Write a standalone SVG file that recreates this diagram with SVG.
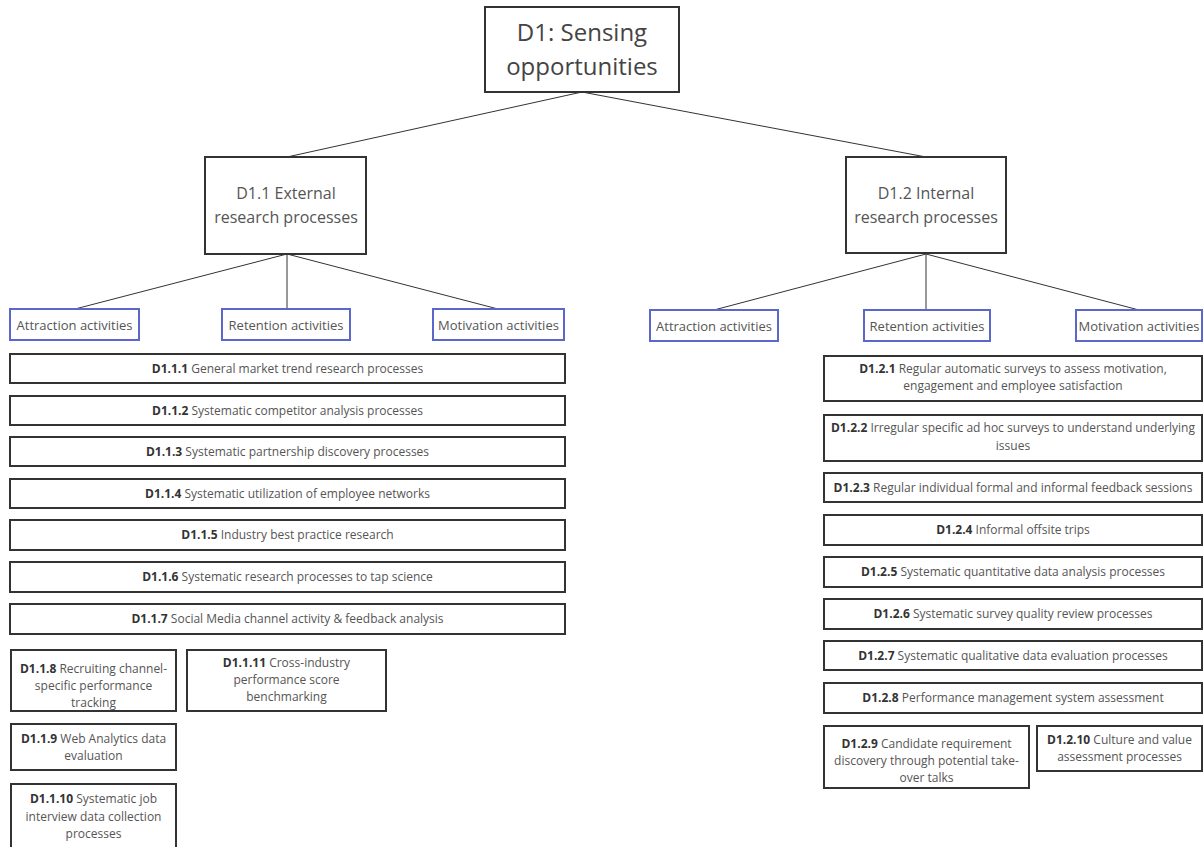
<svg xmlns="http://www.w3.org/2000/svg" width="1203" height="847" viewBox="0 0 1203 847">
<style>
text{font-family:"Open Sans","Noto Sans","Liberation Sans",sans-serif;fill:#555;text-anchor:middle}
.b{font-weight:bold;fill:#333}
.box{fill:#fff;stroke:#333;stroke-width:2}
.act{fill:#fff;stroke:#5c67cc;stroke-width:2}
.s{font-size:12px}
.a{font-size:13px}
.conn line{stroke:#333;stroke-width:1}
</style>
<rect width="1203" height="847" fill="#fff"/>
<g class="conn">
<line x1="582" y1="92" x2="287" y2="157"/>
<line x1="582" y1="92" x2="926" y2="157"/>
<line x1="287" y1="254" x2="75" y2="309"/>
<line x1="287" y1="254" x2="287" y2="309"/>
<line x1="287" y1="254" x2="498" y2="309"/>
<line x1="926" y1="254" x2="714" y2="310"/>
<line x1="926" y1="254" x2="926" y2="310"/>
<line x1="926" y1="254" x2="1139" y2="310"/>
</g>
<g id="root"><rect class="box" x="485" y="7" width="194" height="85"/><text x="582" y="41" font-size="24" style="fill:#444">D1: Sensing</text><text x="582" y="75" font-size="24" style="fill:#444">opportunities</text></g>
<g id="d11"><rect class="box" x="205" y="157" width="161" height="97"/><text x="286" y="199" font-size="16">D1.1 External</text><text x="286" y="223" font-size="16">research processes</text></g>
<g id="d12"><rect class="box" x="846" y="157" width="160" height="96"/><text x="926" y="199" font-size="16">D1.2 Internal</text><text x="926" y="223" font-size="16">research processes</text></g>
<g id="l-attr"><rect class="act" x="10" y="309" width="129" height="31"/><text class="a" x="74.5" y="329.5">Attraction activities</text></g>
<g id="l-ret"><rect class="act" x="222" y="309" width="128" height="31"/><text class="a" x="286" y="329.5">Retention activities</text></g>
<g id="l-mot"><rect class="act" x="433" y="309" width="131" height="31"/><text class="a" x="498.5" y="329.5">Motivation activities</text></g>
<g id="r-attr"><rect class="act" x="650" y="310" width="128" height="31"/><text class="a" x="714" y="330.5">Attraction activities</text></g>
<g id="r-ret"><rect class="act" x="864" y="310" width="126" height="31"/><text class="a" x="927" y="330.5">Retention activities</text></g>
<g id="r-mot"><rect class="act" x="1076" y="310" width="126" height="31"/><text class="a" x="1139" y="330.5">Motivation activities</text></g>
<g id="d111"><rect class="box" x="10" y="354" width="555" height="29"/><text class="s" x="287.5" y="372.5"><tspan class="b">D1.1.1</tspan> General market trend research processes</text></g>
<g id="d112"><rect class="box" x="10" y="396" width="555" height="29"/><text class="s" x="287.5" y="414.5"><tspan class="b">D1.1.2</tspan> Systematic competitor analysis processes</text></g>
<g id="d113"><rect class="box" x="10" y="437" width="555" height="29"/><text class="s" x="287.5" y="455.5"><tspan class="b">D1.1.3</tspan> Systematic partnership discovery processes</text></g>
<g id="d114"><rect class="box" x="10" y="479" width="555" height="29"/><text class="s" x="287.5" y="497.5"><tspan class="b">D1.1.4</tspan> Systematic utilization of employee networks</text></g>
<g id="d115"><rect class="box" x="10" y="520" width="555" height="30"/><text class="s" x="287.5" y="539"><tspan class="b">D1.1.5</tspan> Industry best practice research</text></g>
<g id="d116"><rect class="box" x="10" y="562" width="555" height="30"/><text class="s" x="287.5" y="581"><tspan class="b">D1.1.6</tspan> Systematic research processes to tap science</text></g>
<g id="d117"><rect class="box" x="10" y="604" width="555" height="30"/><text class="s" x="287.5" y="623"><tspan class="b">D1.1.7</tspan> Social Media channel activity &amp; feedback analysis</text></g>
<g id="d118"><rect class="box" x="11" y="650" width="165" height="61"/><text class="s" x="93.5" y="673"><tspan class="b">D1.1.8</tspan> Recruiting channel-</text><text class="s" x="93.5" y="690">specific performance</text><text class="s" x="93.5" y="707">tracking</text></g>
<g id="d1111"><rect class="box" x="187" y="650" width="199" height="61"/><text class="s" x="286.5" y="667"><tspan class="b">D1.1.11</tspan> Cross-industry</text><text class="s" x="286.5" y="684">performance score</text><text class="s" x="286.5" y="701">benchmarking</text></g>
<g id="d119"><rect class="box" x="11" y="724" width="165" height="46"/><text class="s" x="93.5" y="743"><tspan class="b">D1.1.9</tspan> Web Analytics data</text><text class="s" x="93.5" y="760">evaluation</text></g>
<g id="d1110"><rect class="box" x="11" y="784" width="165" height="70"/><text class="s" x="93.5" y="803"><tspan class="b">D1.1.10</tspan> Systematic job</text><text class="s" x="93.5" y="821">interview data collection</text><text class="s" x="93.5" y="838">processes</text></g>
<g id="d121"><rect class="box" x="824" y="356" width="378" height="45"/><text class="s" x="1013" y="373"><tspan class="b">D1.2.1</tspan> Regular automatic surveys to assess motivation,</text><text class="s" x="1013" y="390">engagement and employee satisfaction</text></g>
<g id="d122"><rect class="box" x="824" y="415" width="378" height="46"/><text class="s" x="1013" y="432"><tspan class="b">D1.2.2</tspan> Irregular specific ad hoc surveys to understand underlying</text><text class="s" x="1013" y="450">issues</text></g>
<g id="d123"><rect class="box" x="824" y="473" width="378" height="29"/><text class="s" x="1013" y="491.5"><tspan class="b">D1.2.3</tspan> Regular individual formal and informal feedback sessions</text></g>
<g id="d124"><rect class="box" x="824" y="515" width="378" height="30"/><text class="s" x="1013" y="534"><tspan class="b">D1.2.4</tspan> Informal offsite trips</text></g>
<g id="d125"><rect class="box" x="824" y="557" width="378" height="30"/><text class="s" x="1013" y="576"><tspan class="b">D1.2.5</tspan> Systematic quantitative data analysis processes</text></g>
<g id="d126"><rect class="box" x="824" y="599" width="378" height="30"/><text class="s" x="1013" y="618"><tspan class="b">D1.2.6</tspan> Systematic survey quality review processes</text></g>
<g id="d127"><rect class="box" x="824" y="641" width="378" height="29"/><text class="s" x="1013" y="659.5"><tspan class="b">D1.2.7</tspan> Systematic qualitative data evaluation processes</text></g>
<g id="d128"><rect class="box" x="824" y="683" width="378" height="30"/><text class="s" x="1013" y="702"><tspan class="b">D1.2.8</tspan> Performance management system assessment</text></g>
<g id="d129"><rect class="box" x="824" y="726" width="205" height="62"/><text class="s" x="926.5" y="748"><tspan class="b">D1.2.9</tspan> Candidate requirement</text><text class="s" x="926.5" y="765">discovery through potential take-</text><text class="s" x="926.5" y="782">over talks</text></g>
<g id="d1210"><rect class="box" x="1037" y="726" width="165" height="45"/><text class="s" x="1119.5" y="744"><tspan class="b">D1.2.10</tspan> Culture and value</text><text class="s" x="1119.5" y="761">assessment processes</text></g>
</svg>
